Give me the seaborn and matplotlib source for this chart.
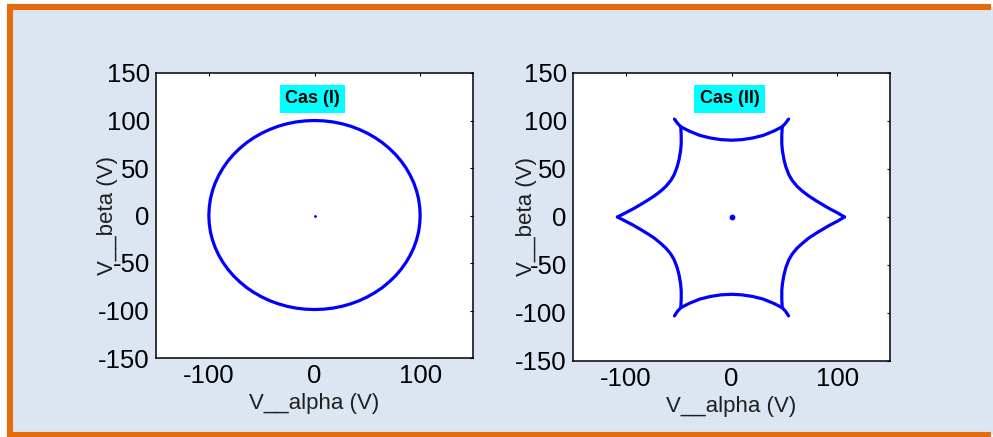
import matplotlib
matplotlib.use("Agg")
import matplotlib.pyplot as plt
import matplotlib.patches as mpatches
from matplotlib.lines import Line2D
import numpy as np
import pandas as pd
import seaborn as sns

# ---------------- data ----------------
# Cas (I): circular trajectory, V_alpha / V_beta in volts
circ_x = [0.0, -8.7, -17.4, -25.9, -34.2, -42.3,
          -50.0, -57.4, -64.3, -70.7, -76.6, -81.9, -86.6, -90.6, -94.0, -96.6, -98.5,
          -99.6, -100.0, -99.6, -98.5, -96.6, -94.0, -90.6, -86.6, -81.9, -76.6, -70.7,
          -64.3, -57.4, -50.0, -42.3, -34.2, -25.9, -17.4, -8.7, 0.0, 8.7, 17.4, 25.9,
          34.2, 42.3, 50.0, 57.4, 64.3, 70.7, 76.6, 81.9, 86.6, 90.6, 94.0, 96.6, 98.5,
          99.6, 100.0, 99.6, 98.5, 96.6, 94.0, 90.6, 86.6, 81.9, 76.6, 70.7, 64.3, 57.4,
          50.0, 42.3, 34.2, 25.9, 17.4, 8.7, 0.0]
circ_y = [100.0, 99.6, 98.5, 96.6, 94.0, 90.6,
          86.6, 81.9, 76.6, 70.7, 64.3, 57.4, 50.0, 42.3, 34.2, 25.9, 17.4,
          8.7, 0.0, -8.6, -17.2, -25.6, -33.8, -41.8, -49.4, -56.7, -63.6, -69.9,
          -75.8, -81.0, -85.7, -89.7, -93.0, -95.6, -97.5, -98.6, -99.0, -98.6, -97.5, -95.6,
          -93.0, -89.7, -85.7, -81.0, -75.8, -69.9, -63.6, -56.7, -49.4, -41.8, -33.8, -25.6, -17.2,
          -8.6, 0.0, 8.7, 17.4, 25.9, 34.2, 42.3, 50.0, 57.4, 64.3, 70.7, 76.6, 81.9,
          86.6, 90.6, 94.0, 96.6, 98.5, 99.6, 100.0]

# Cas (II): six-cusp trajectory, listed arc by arc
top_x = [-54.0, -51.0, -48.0, -40.0, -30.0, -20.0, -10.0, 0.0, 10.0, 20.0, 30.0, 40.0, 48.0, 51.0, 54.0]
top_y = [102.0, 97.5, 94.0, 89.5, 85.0, 82.3, 80.6, 80.0, 80.6, 82.3, 85.0, 89.5, 94.0, 97.5, 102.0]
bot_x = [-54.0, -51.0, -48.0, -40.0, -30.0, -20.0, -10.0, 0.0, 10.0, 20.0, 30.0, 40.0, 48.0, 51.0, 54.0]
bot_y = [-103.0, -98.0, -94.5, -90.0, -85.5, -82.8, -81.1, -80.5, -81.1, -82.8, -85.5, -90.0, -94.5, -98.0, -103.0]
ul_x = [-48.0, -47.6, -47.6, -48.2, -49.6, -51.5, -54.3, -57.5, -62.0, -67.0, -73.0, -80.0, -86.0, -93.0, -100.0, -108.0]
ul_y = [94.0, 85.0, 76.0, 69.0, 60.0, 52.0, 44.0, 38.0, 32.0, 27.0, 22.0, 17.0, 13.0, 8.5, 4.5, 0.0]
ll_x = [-48.0, -47.6, -47.6, -48.2, -49.6, -51.5, -54.3, -57.5, -62.0, -67.0, -73.0, -80.0, -86.0, -93.0, -100.0, -108.0]
ll_y = [-94.5, -85.5, -76.5, -69.5, -60.5, -52.5, -44.5, -38.5, -32.5, -27.5, -22.0, -17.0, -13.0, -8.5, -4.5, 0.0]
ur_x = [48.0, 47.6, 47.6, 48.2, 49.6, 51.5, 54.3, 57.5, 62.0, 67.0, 73.0, 80.0, 86.0, 93.0, 100.0, 107.0]
ur_y = [94.0, 85.0, 76.0, 69.0, 60.0, 52.0, 44.0, 38.0, 32.0, 27.0, 22.0, 17.0, 13.0, 8.5, 4.5, 0.0]
lr_x = [48.0, 47.6, 47.6, 48.2, 49.6, 51.5, 54.3, 57.5, 62.0, 67.0, 73.0, 80.0, 86.0, 93.0, 100.0, 107.0]
lr_y = [-94.5, -85.5, -76.5, -69.5, -60.5, -52.5, -44.5, -38.5, -32.5, -27.5, -22.0, -17.0, -13.0, -8.5, -4.5, 0.0]

center_x = [0.0]
center_y = [0.0]

x_ticks = [-100, 0, 100]
y_ticks = [-150, -100, -50, 0, 50, 100, 150]
titles = ["Cas (I)", "Cas (II)"]
xlabel = "V__alpha (V)"
ylabel = "V__beta (V)"

# ---------------- style ----------------
sns.set_style("white")
plt.rcParams["font.family"] = ["Liberation Sans", "DejaVu Sans"]
plt.rcParams["axes.unicode_minus"] = False

BG = "#DCE6F2"
ORANGE = "#E46C0A"
BLUE = "#0000FF"

fig = plt.figure(figsize=(9.93, 4.37), dpi=100, facecolor="white")

# framed panel background (drawn behind the axes); open on the right side
W, H = 993.0, 437.0
xl, yt, yb = 10 / W, 1 - 7 / H, 1 - 434.5 / H
xr = 1 - 2.0 / W
fig.add_artist(mpatches.Rectangle((xl, yb), 1.0 - xl, yt - yb,
                                  transform=fig.transFigure, facecolor=BG,
                                  edgecolor="none", zorder=-10))
for lx, ly in [([xl, xr], [yt, yt]), ([xl, xr], [yb, yb])]:
    fig.add_artist(Line2D(lx, ly, transform=fig.transFigure, color=ORANGE,
                          linewidth=4.4, solid_capstyle="butt", zorder=-9))
fig.add_artist(Line2D([xl, xl], [yb - 2.9 / H, yt + 2.9 / H],
                      transform=fig.transFigure, color=ORANGE,
                      linewidth=4.4, solid_capstyle="butt", zorder=-9))

ax1 = fig.add_axes([156 / W, 1 - 358 / H, 317 / W, (358 - 73) / H])
ax2 = fig.add_axes([573 / W, 1 - 361 / H, 317 / W, (361 - 73) / H])

# Cas (I)
sns.lineplot(x=circ_x, y=circ_y, sort=False, estimator=None, color=BLUE,
             linewidth=2.3, solid_capstyle="round", solid_joinstyle="round",
             ax=ax1)
ax1.scatter(center_x, center_y, s=1, color=BLUE, zorder=3)

# Cas (II)
segs = [("top", top_x, top_y), ("bot", bot_x, bot_y), ("ul", ul_x, ul_y),
        ("ll", ll_x, ll_y), ("ur", ur_x, ur_y), ("lr", lr_x, lr_y)]
df = pd.concat([pd.DataFrame({"x": sx, "y": sy, "seg": name})
                for name, sx, sy in segs], ignore_index=True)
sns.lineplot(data=df, x="x", y="y", units="seg", estimator=None, sort=False,
             color=BLUE, linewidth=2.3, ax=ax2)
ax2.scatter(center_x, center_y, s=10, color=BLUE, zorder=3)

for ax, title in zip([ax1, ax2], titles):
    ax.set_facecolor("white")
    ax.set_xlim(-150, 150)
    ax.set_ylim(-150, 150)
    ax.set_xticks(x_ticks)
    ax.set_yticks(y_ticks)
    ax.tick_params(axis="both", direction="in", length=2.5, width=0.8,
                   top=True, right=True, labelsize=18.5, colors="black")
    ax.tick_params(axis="x", pad=4.5)
    ax.tick_params(axis="y", pad=4.5)
    for sp in ax.spines.values():
        sp.set_visible(True)
        sp.set_color("black")
        sp.set_linewidth(1.1)
    ax.set_xlabel(xlabel, fontsize=16, color="#1f1f1f")
    ax.set_ylabel(ylabel, fontsize=16, color="#1f1f1f")
    ax.xaxis.set_label_coords(0.5, -0.122)
    ax.text(-2, 123, title, ha="center", va="center", fontsize=13,
            fontweight="bold", color="black",
            bbox=dict(boxstyle="square,pad=0.3", facecolor="#00FFFF",
                      edgecolor="none"))

ax1.yaxis.set_label_coords(-0.121, 0.5)
ax2.yaxis.set_label_coords(-0.112, 0.5)

fig.savefig("out.png", dpi=100, facecolor="white")
